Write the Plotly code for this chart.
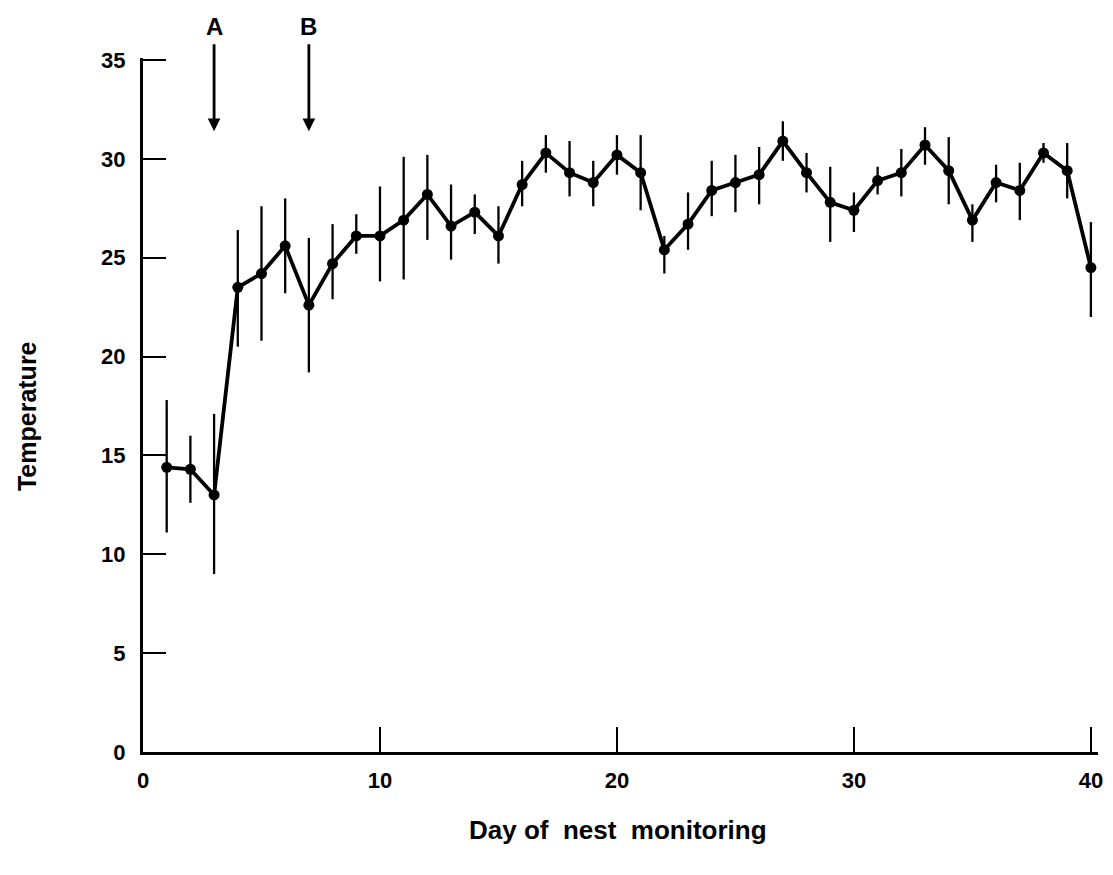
import plotly.graph_objects as go

days = list(range(1, 41))
temp_mean = [14.4, 14.3, 13.0, 23.5, 24.2, 25.6, 22.6, 24.7, 26.1, 26.1,
             26.9, 28.2, 26.6, 27.3, 26.1, 28.7, 30.3, 29.3, 28.8, 30.2,
             29.3, 25.4, 26.7, 28.4, 28.8, 29.2, 30.9, 29.3, 27.8, 27.4,
             28.9, 29.3, 30.7, 29.4, 26.9, 28.8, 28.4, 30.3, 29.4, 24.5]
temp_upper = [17.8, 16.0, 17.1, 26.4, 27.6, 28.0, 26.0, 26.7, 27.2, 28.6,
              30.1, 30.2, 28.7, 28.2, 27.6, 29.9, 31.2, 30.9, 29.9, 31.2,
              31.2, 26.1, 28.3, 29.9, 30.2, 30.6, 31.9, 30.3, 29.6, 28.3,
              29.6, 30.5, 31.6, 31.1, 27.7, 29.7, 29.8, 30.8, 30.8, 26.8]
temp_lower = [11.1, 12.6, 9.0, 20.5, 20.8, 23.2, 19.2, 22.9, 25.2, 23.8,
              23.9, 25.9, 24.9, 26.2, 24.7, 27.6, 29.3, 28.1, 27.6, 29.2,
              27.4, 24.2, 25.4, 27.1, 27.3, 27.7, 29.9, 28.3, 25.8, 26.3,
              28.2, 28.1, 29.7, 27.7, 25.8, 27.8, 26.9, 29.8, 28.0, 22.0]

x_ticks = [0, 10, 20, 30, 40]
y_ticks = [0, 5, 10, 15, 20, 25, 30, 35]
event_labels = ["A", "B"]
event_days = [3, 7]

err_plus = [u - m for u, m in zip(temp_upper, temp_mean)]
err_minus = [m - l for m, l in zip(temp_mean, temp_lower)]

FONT = "Liberation Sans, Arial, sans-serif"

fig = go.Figure()
fig.add_trace(go.Scatter(
    x=days, y=temp_mean, mode="lines+markers",
    line=dict(color="black", width=3.8),
    marker=dict(color="black", size=11),
    error_y=dict(type="data", symmetric=False, array=err_plus,
                 arrayminus=err_minus, color="black", thickness=2.3, width=0),
    cliponaxis=False, showlegend=False,
))

annotations = []
for lab, d in zip(event_labels, event_days):
    annotations.append(dict(
        x=d, y=31.4, xref="x", yref="y", text=lab,
        showarrow=True, ax=d, ay=36.7, axref="x", ayref="y",
        arrowhead=2, arrowsize=0.9, arrowwidth=2.8, arrowcolor="black",
        standoff=0, startstandoff=3,
        font=dict(family=FONT, size=24, color="black", weight="bold"),
    ))
annotations.append(dict(
    text="Temperature", xref="paper", yref="paper", x=-0.1215, y=0.484,
    xanchor="center", yanchor="middle", textangle=-90, showarrow=False,
    font=dict(family=FONT, size=25, color="black", weight="bold"),
))
annotations.append(dict(
    text="Day of  nest  monitoring", xref="paper", yref="paper", x=0.497, y=-0.1127,
    xanchor="center", yanchor="middle", showarrow=False,
    font=dict(family=FONT, size=26, color="black", weight="bold"),
))

fig.update_layout(
    width=1113, height=875,
    margin=dict(l=143, r=10, t=58, b=123),
    paper_bgcolor="white", plot_bgcolor="white",
    font=dict(family=FONT, size=21, color="black", weight="bold"),
    annotations=annotations,
    xaxis=dict(range=[0, 40.3], tickvals=x_ticks, ticks="inside", ticklen=25,
               tickwidth=2, tickcolor="black", showline=True, linecolor="black",
               linewidth=3, showgrid=False, zeroline=False,
               ticklabelstandoff=7,
               tickfont=dict(family=FONT, size=22, weight="bold")),
    yaxis=dict(range=[0, 35.1], tickvals=y_ticks, ticks="inside", ticklen=23,
               tickwidth=2, tickcolor="black", showline=True, linecolor="black",
               linewidth=3, showgrid=False, zeroline=False,
               ticklabelstandoff=10,
               tickfont=dict(family=FONT, size=22, weight="bold")),
)

fig.write_html("out.html")
